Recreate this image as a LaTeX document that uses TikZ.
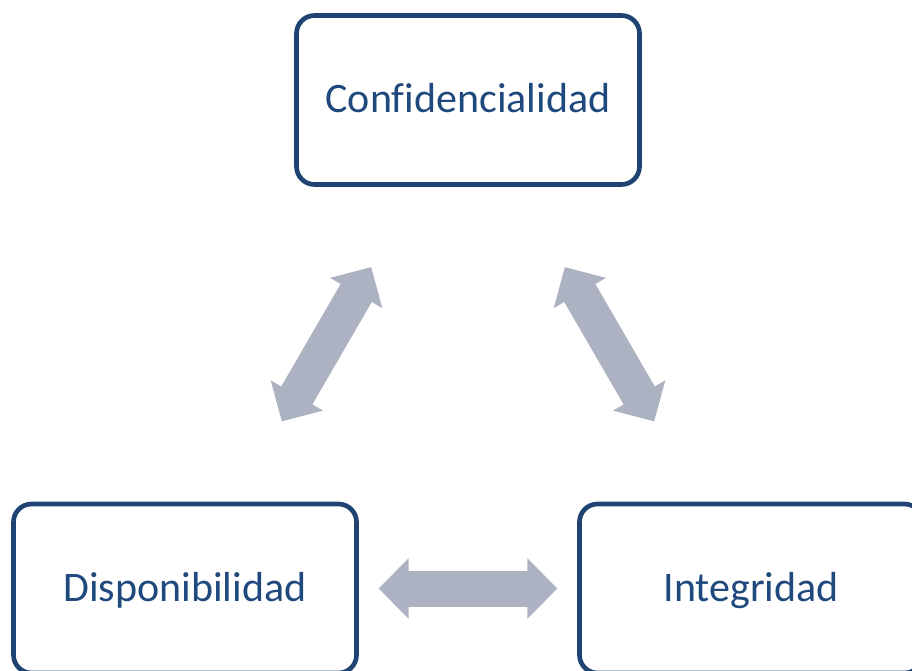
\documentclass[tikz,border=0pt]{standalone}
\usepackage{fontspec}
\setmainfont{Carlito}[Ligatures=NoCommon]
\usetikzlibrary{arrows.meta,calc}
\definecolor{box_blue}{RGB}{31,68,116}
\definecolor{text_blue}{RGB}{31,73,125}
\definecolor{arrow_gray}{RGB}{173,178,194}

\begin{document}
\begin{tikzpicture}[x=0.75pt,y=-0.75pt]
    \tikzstyle{box}=[draw=box_blue, line width=3.5pt, rounded corners=13.5pt, minimum width=257.25pt, minimum height=126.75pt, text=text_blue, text height=24pt, text depth=4.5pt, font=\fontsize{31.5}{38}\selectfont]
    \tikzstyle{link}=[color=arrow_gray, line width=27pt, {Triangle[length=22.5pt,width=44pt]}-{Triangle[length=22.5pt,width=44pt]}]
    \useasboundingbox (0,0) rectangle (912,670);

    \node[box] (conf)  at (468,100)   {Confidencialidad};
    \node[box] (disp)  at (185,588.5) {Disponibilidad};
    \node[box] (integ) at (751,588.5) {Integridad};
    \path
     ($(disp)!0.342!(conf)$)  edge[link] ($(disp)!0.658!(conf)$)
     ($(conf)!0.342!(integ)$) edge[link] ($(conf)!0.658!(integ)$)
     ($(disp)!0.342!(integ)$) edge[link] ($(disp)!0.658!(integ)$)
     ;
\end{tikzpicture}
\end{document}
